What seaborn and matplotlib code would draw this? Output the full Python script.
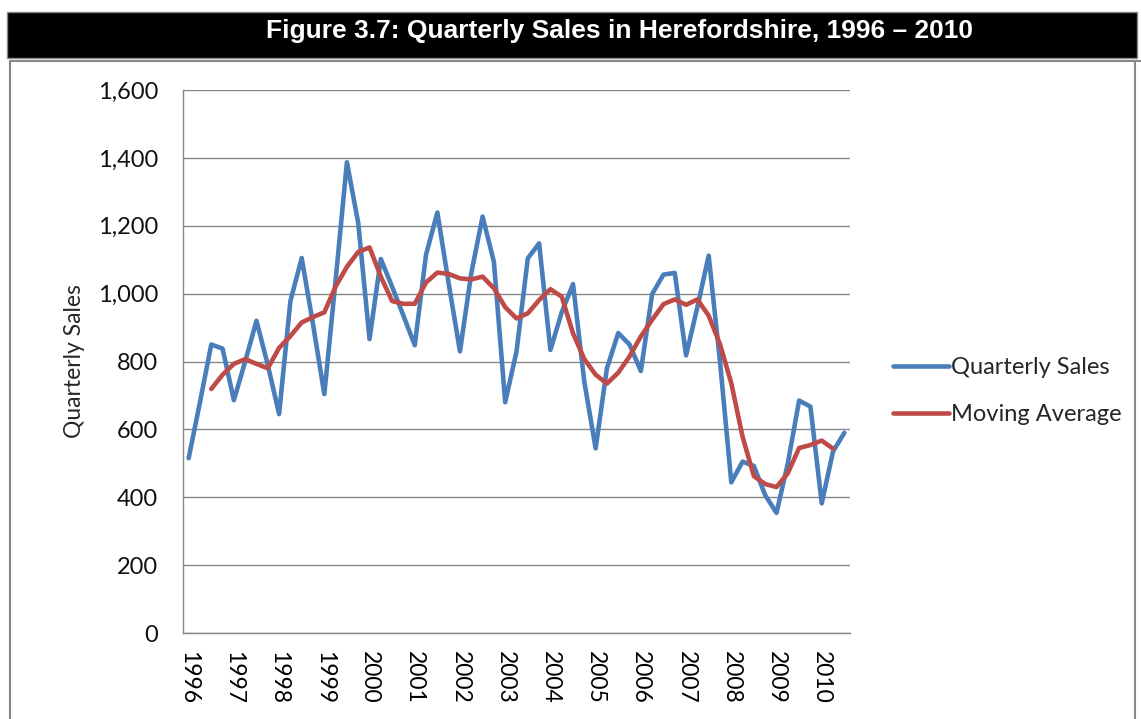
import numpy as np
import pandas as pd
import seaborn as sns
import matplotlib.pyplot as plt
from matplotlib.lines import Line2D
from matplotlib.patches import Rectangle

sns.set_style("white")
plt.rcParams['font.family'] = ['Lato', 'DejaVu Sans']

# data, 1996 Q1 .. 2010 Q3
years = list(range(1996, 2011))
quarterly_sales = [515, 680, 850, 838, 686, 800, 920, 790, 645, 978,
                   1105, 910, 704, 1040, 1387, 1208, 866, 1102, 1020, 935,
                   848, 1115, 1239, 1030, 830, 1060, 1227, 1094, 680, 829,
                   1104, 1148, 834, 945, 1028, 740, 544, 780, 884, 850,
                   772, 999, 1056, 1061, 818, 960, 1112, 800, 444, 505,
                   492, 406, 354, 500, 685, 667, 382, 535, 590]
moving_average = [np.nan, np.nan,
                  719, 761, 793, 807, 793, 780, 840, 875, 915, 931,
                  945, 1021, 1079, 1123, 1136, 1050, 978, 970, 970, 1033,
                  1062, 1058, 1045, 1042, 1050, 1016, 960, 927, 942, 981,
                  1013, 991, 883, 807, 761, 735, 767, 815, 874, 923,
                  969, 983, 967, 983, 935, 851, 736, 578, 462, 439,
                  430, 471, 545, 554, 567, 543,
                  np.nan]
series_names = ['Quarterly Sales', 'Moving Average']
colors = ['#4A7EBB', '#BE4B48']

n = len(quarterly_sales)
df = pd.DataFrame({'q': np.arange(n),
                   series_names[0]: quarterly_sales,
                   series_names[1]: moving_average})
long = df.melt(id_vars='q', var_name='series', value_name='sales').dropna()

fig = plt.figure(figsize=(11.41, 7.19), dpi=100)
ax = fig.add_axes([183/1141, 1-633/719, (850-183)/1141, (633-90)/719])

lw = 3.3
sns.lineplot(data=long, x='q', y='sales', hue='series', hue_order=series_names,
             palette=colors, linewidth=lw, ax=ax, legend=False,
             solid_joinstyle='round', solid_capstyle='round')

grid_c = '#868686'
ax.set_xlim(-0.5, n - 0.5)
ax.set_ylim(0, 1600)
ax.set_yticks(range(0, 1601, 200))
ax.set_yticklabels([f'{v:,}' for v in range(0, 1601, 200)])
ax.yaxis.grid(True, color=grid_c, linewidth=1)
ax.xaxis.grid(False)
ax.set_axisbelow(True)
for s in ['top', 'right']:
    ax.spines[s].set_visible(False)
for s in ['left', 'bottom']:
    ax.spines[s].set_color(grid_c)
    ax.spines[s].set_linewidth(1)

ax.set_xticks(np.arange(0, n, 4))
ax.set_xticklabels([str(y) for y in years], rotation=-90)
ax.set_xticks(np.arange(-0.5, n, 1), minor=True)
ax.tick_params(axis='x', which='major', length=0, pad=13, labelsize=16.5, labelcolor='black')
ax.tick_params(axis='x', which='minor', length=7, color=grid_c, direction='out')
ax.tick_params(axis='y', length=5, color=grid_c, direction='out', pad=13,
               labelsize=17, labelcolor='#111111')
ax.set_xlabel('')
ax.set_ylabel('Quarterly Sales', fontsize=16.5, labelpad=9)

handles = [Line2D([], [], color=c, linewidth=lw) for c in colors]
fig.legend(handles, series_names, loc='center left',
           bbox_to_anchor=(872/1141, 1-391/719), frameon=False,
           fontsize=17, handlelength=2.35, handletextpad=0.08, labelspacing=1.12)

# header bar and frame
fig.add_artist(Rectangle((7/1141, 1-58/719), 1130/1141, 46/719,
                         transform=fig.transFigure, facecolor='black',
                         edgecolor='#888888', linewidth=1))
fig.text(619/1141, 1-31/719, 'Figure 3.7: Quarterly Sales in Herefordshire, 1996 \u2013 2010',
         ha='center', va='center', color='white', fontsize=19, fontweight='bold',
         family=['Liberation Sans', 'DejaVu Sans'])
fig.add_artist(Line2D([10/1141, 1], [1-61/719, 1-61/719], transform=fig.transFigure,
                      color='#888888', linewidth=1.5))
fig.add_artist(Line2D([10/1141, 10/1141], [0, 1-61/719], transform=fig.transFigure,
                      color='#888888', linewidth=1.5))
fig.add_artist(Line2D([1135/1141, 1135/1141], [0, 1-61/719], transform=fig.transFigure,
                      color='#888888', linewidth=1.5))

fig.savefig('out.png', dpi=100)
